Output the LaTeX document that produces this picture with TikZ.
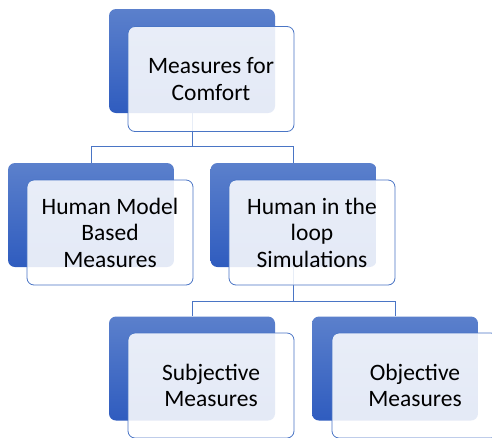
\documentclass[tikz,border=0pt]{standalone}
\usepackage{fontspec}
\setmainfont{Carlito}
\usetikzlibrary{positioning}
\definecolor{boxtop}{HTML}{5B80CC}
\definecolor{boxbot}{HTML}{2F5CBF}
\definecolor{boxline}{HTML}{4A75C5}

\begin{document}
\begin{tikzpicture}[x=1pt,y=-1pt,
  back/.style={rectangle,rounded corners=7pt,minimum width=166pt,minimum height=104pt,
    inner sep=0pt,top color=boxtop,bottom color=boxbot,draw=none},
  front/.style={rectangle,rounded corners=7pt,minimum width=166pt,minimum height=105pt,
    inner sep=0pt,draw=boxline,line width=0.8pt,fill=white,fill opacity=0.87,
    text opacity=1,align=center,font=\fontsize{23.5}{26.5}\selectfont},
  link/.style={draw=boxline,line width=0.8pt}]
\useasboundingbox (0,0) rectangle (492,437);
\node[back] (A) at (192,61) {};
\node[back] (B) at (91,215) {};
\node[back] (C) at (293.5,215) {};
\node[back] (D) at (192,368.5) {};
\node[back] (E) at (395,368.5) {};
\coordinate (AB) at (192,146);
\coordinate (CD) at (293.5,301);
\draw[link] (A.south) -- (AB) -| (B.north);
\draw[link] (AB) -| (C.north);
\draw[link] (C.south) -- (CD) -| (D.north);
\draw[link] (CD) -| (E.north);
\node[front] (A') at (211,79) {Measures for\\Comfort};
\node[front] (B') at (110,232.5) {Human Model\\Based\\Measures};
\node[front] (C') at (312,232.5) {Human in the\\loop\\Simulations};
\node[front] (D') at (211,385.5) {Subjective\\Measures};
\node[front] (E') at (415,385.5) {Objective\\Measures};
\end{tikzpicture}
\end{document}
